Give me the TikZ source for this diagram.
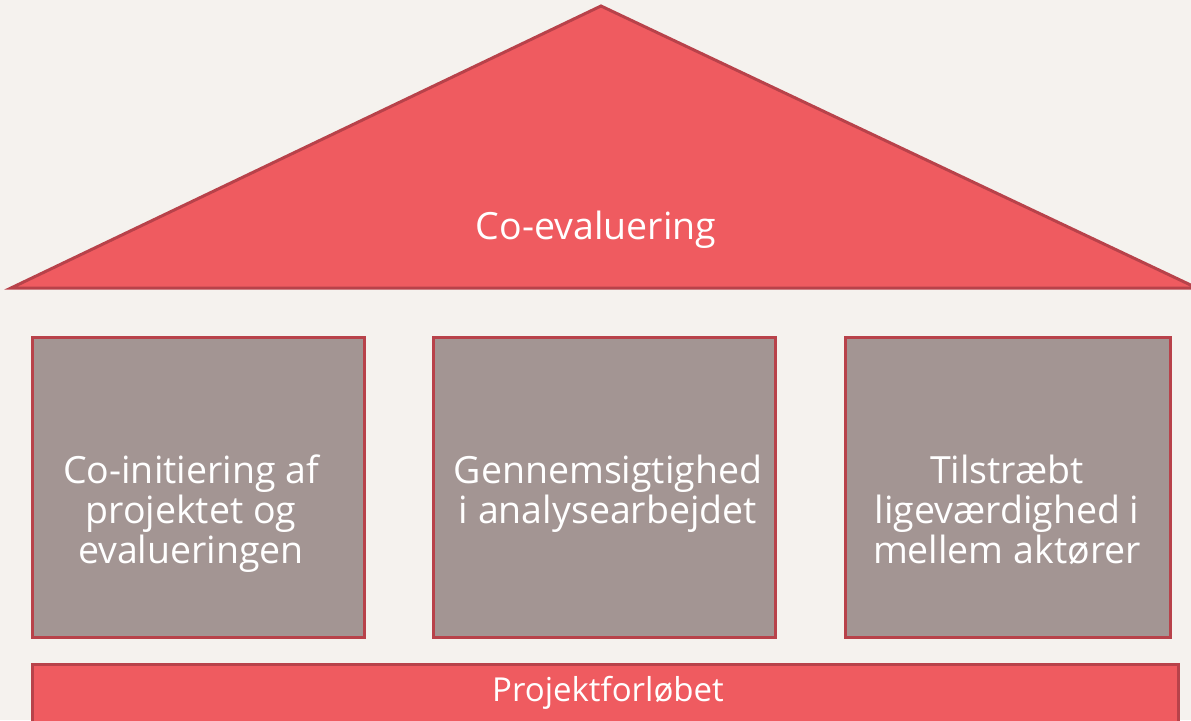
\documentclass[tikz,border=0pt]{standalone}
\usepackage{fontspec}
\setmainfont{Open Sans}
\usepackage{tikz}
\usetikzlibrary{positioning}
\definecolor{bgcol}{HTML}{F5F2EE}
\definecolor{roofred}{HTML}{EF5B60}
\definecolor{edgered}{HTML}{B8424A}
\definecolor{pillargray}{HTML}{A39593}
\tikzset{
    pillar/.style={fill=pillargray, draw=edgered, line width=3pt},
    redpart/.style={fill=roofred, draw=edgered, line width=3pt, line join=miter},
    label/.style={text=white, align=center, inner sep=0pt, font=\fontsize{37.5}{40}\selectfont}
}

\begin{document}
\begin{tikzpicture}[x=1pt,y=-1pt]
    \fill[bgcol] (0,0) rectangle (1191,720);
    \useasboundingbox (0,0) rectangle (1191,720);
    % roof
    \draw[redpart] (11,288)coordinate(roofL)--(601,6)coordinate(top)--(1197,288)coordinate(roofR)--cycle;
    \node[label] (roof) at (596,230) {Co-evaluering};
    % pillars
    \draw[pillar] (32,337) rectangle (364,637);
    \draw[pillar] (433,337) rectangle (775,637);
    \draw[pillar] (845,337) rectangle (1170,637);
    \node[label, anchor=north] (p1) at (191,455) {Co-initiering af\\projektet og\\evalueringen};
    \node[label, anchor=north] (p2) at (608,455) {Gennemsigtighed\\i analysearbejdet};
    \node[label, anchor=north] (p3) at (1007,455) {Tilstræbt\\ligeværdighed i\\mellem aktører};
    % foundation
    \draw[redpart] (32,664) rectangle (1178,735);
    \node[label, font=\fontsize{33}{36}\selectfont] (base) at (608,693) {Projektforløbet};
\end{tikzpicture}
\end{document}
